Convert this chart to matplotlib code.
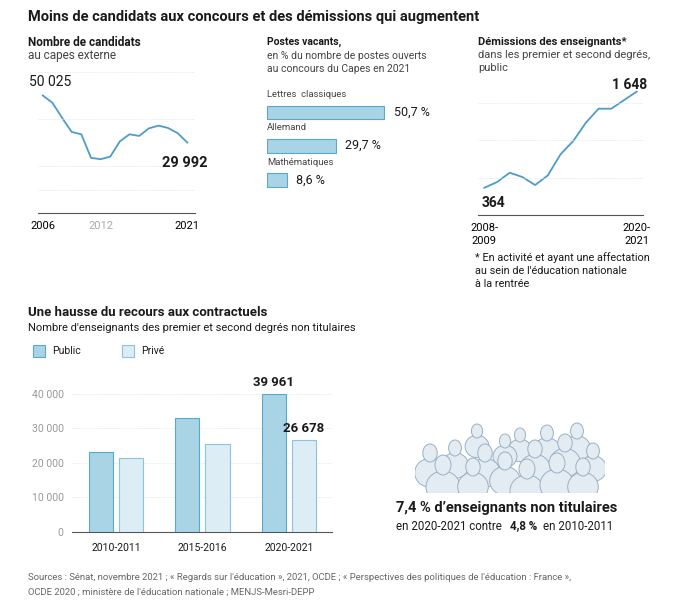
import matplotlib
matplotlib.use("Agg")
import matplotlib.pyplot as plt
from matplotlib.patches import Ellipse, FancyBboxPatch

plt.rcParams['font.family'] = ['Roboto', 'DejaVu Sans']

# ---- data ----
cand_years = list(range(2006, 2022))
cand_values = [50025, 46900, 40500, 34500, 33500, 23500, 22900, 24000, 30500,
               33500, 32800, 36000, 37200, 36200, 34000, 29992]

dem_years = ["2008-2009", "2009-2010", "2010-2011", "2011-2012", "2012-2013", "2013-2014",
             "2014-2015", "2015-2016", "2016-2017", "2017-2018", "2018-2019", "2019-2020", "2020-2021"]
dem_values = [364, 440, 565, 507, 400, 529, 810, 988, 1233, 1420, 1420, 1534, 1648]

vac_subjects = ["Lettres  classiques", "Allemand", "Mathématiques"]
vac_values = [50.7, 29.7, 8.6]
vac_labels = ["50,7 %", "29,7 %", "8,6 %"]

ct_years = ["2010-2011", "2015-2016", "2020-2021"]
ct_public = [23300, 32900, 39961]
ct_prive = [21400, 25500, 26678]

W, H = 680, 608
fig = plt.figure(figsize=(W/100, H/100), dpi=100)
fig.patch.set_facecolor("white")

def T(x, y, s, **kw):
    kw.setdefault("va", "center")
    return fig.text(x/W, 1-y/H, s, **kw)

def AX(x0, y0, x1, y1):
    return fig.add_axes([x0/W, 1-y1/H, (x1-x0)/W, (y1-y0)/H])

BLUE = "#4d9ccb"
GRID = "#e4e4e4"
DARK = "#1a1a1a"
GREY = "#444444"

T(28, 17, "Moins de candidats aux concours et des démissions qui augmentent",
  fontsize=10.5, fontweight="bold", color=DARK)

# ---- left line chart ----
T(28, 42, "Nombre de candidats", fontsize=8.5, fontweight="bold", color=DARK)
T(28, 56, "au capes externe", fontsize=8.5, color=GREY)
ax = AX(38, 65, 195, 213)
ax.plot(cand_years, cand_values, color=BLUE, lw=1.3)
ax.set_xlim(2005.5, 2021.8)
ax.set_ylim(0, 63000)
for g in [10000, 20000, 40000, 60000]:
    ax.axhline(g, color=GRID, lw=0.6, ls=(0, (1, 1)))
for s in ["top", "right", "left"]:
    ax.spines[s].set_visible(False)
ax.spines["bottom"].set_color("#555")
ax.set_yticks([])
ax.set_xticks([2006, 2012, 2021])
ax.set_xticklabels(["2006", "2012", "2021"], fontsize=8)
ax.tick_params(axis="x", length=0, pad=6)
ax.get_xticklabels()[1].set_color("#aaaaaa")
ax.annotate("50 025", (cand_years[0], cand_values[0]), xytext=(-10, 5), textcoords="offset points",
            fontsize=10, color=DARK, va="bottom")
ax.annotate("29 992", (cand_years[-1], cand_values[-1]), xytext=(-18, -10), textcoords="offset points",
            fontsize=10.5, fontweight="bold", color=DARK, ha="left", va="top")

# ---- vacant posts ----
T(267, 42, "Postes vacants,", fontsize=7.5, fontweight="bold", color=DARK)
T(267, 56, "en % du nombre de postes ouverts", fontsize=7.5, color=GREY)
T(267, 69, "au concours du Capes en 2021", fontsize=7.5, color=GREY)
axv = AX(267, 86, 457, 192)
ys = [0.05, 1.05, 2.1]
axv.barh(ys, vac_values, height=0.42, color="#a8d4e6", edgecolor="#5aa8cc", lw=0.8, align="center")
axv.set_xlim(0, 82)
axv.set_ylim(2.45, -0.75)
for yv, v, lab, sub in zip(ys, vac_values, vac_labels, vac_subjects):
    axv.text(v + 4, yv, lab, va="center", fontsize=9, color=DARK)
    axv.text(0, yv - 0.4, sub, va="bottom", fontsize=6.8, color=GREY)
axv.axis("off")

# ---- resignations ----
T(478, 42, "Démissions des enseignants*", fontsize=8, fontweight="bold", color=DARK)
T(478, 55, "dans les premier et second degrés,", fontsize=8, color=GREY)
T(478, 68, "public", fontsize=8, color=GREY)
axr = AX(478, 84, 643, 215)
xr = list(range(len(dem_years)))
axr.plot(xr, dem_values, color=BLUE, lw=1.3)
axr.set_xlim(-0.5, 12.5)
axr.set_ylim(0, 1750)
for g in [500, 1000, 1500]:
    axr.axhline(g, color=GRID, lw=0.6, ls=(0, (1, 1)))
for s in ["top", "right", "left"]:
    axr.spines[s].set_visible(False)
axr.spines["bottom"].set_color("#555")
axr.set_yticks([])
axr.set_xticks([0, 12])
axr.set_xticklabels(["2008-\n2009", "2020-\n2021"], fontsize=8, linespacing=1.3)
axr.tick_params(axis="x", length=0, pad=6)
axr.annotate("364", (0, dem_values[0]), xytext=(-2, -14), textcoords="offset points",
             fontsize=10, fontweight="bold", color=DARK)
axr.annotate("1 648", (12, dem_values[-1]), xytext=(-18, 2), textcoords="offset points",
             fontsize=10, fontweight="bold", color=DARK)
T(475, 258, "* En activité et ayant une affectation", fontsize=7.8, color=DARK)
T(475, 271, "au sein de l'éducation nationale", fontsize=7.8, color=DARK)
T(475, 284, "à la rentrée", fontsize=7.8, color=DARK)

# ---- contract teachers ----
T(28, 313, "Une hausse du recours aux contractuels", fontsize=9.5, fontweight="bold", color=DARK)
T(28, 328, "Nombre d'enseignants des premier et second degrés non titulaires", fontsize=8, color=DARK)
PUB_F, PUB_E = "#a8d4e6", "#5aa8cc"
PRI_F, PRI_E = "#dcedf6", "#8cc4de"
fig.patches.append(FancyBboxPatch((33/W, 1-357/H), 12/W, 12/H, boxstyle="square,pad=0",
                                  transform=fig.transFigure, fc=PUB_F, ec=PUB_E, lw=0.8))
T(52, 351, "Public", fontsize=7.5, color=DARK)
fig.patches.append(FancyBboxPatch((122/W, 1-357/H), 12/W, 12/H, boxstyle="square,pad=0",
                                  transform=fig.transFigure, fc=PRI_F, ec=PRI_E, lw=0.8))
T(141, 351, "Privé", fontsize=7.5, color=DARK)

axb = AX(72, 368, 332, 532)
xb = list(range(len(ct_years)))
bw = 0.28
off = 0.175
axb.bar([i - off for i in xb], ct_public, width=bw, color=PUB_F, edgecolor=PUB_E, lw=0.8, zorder=3)
axb.bar([i + off for i in xb], ct_prive, width=bw, color=PRI_F, edgecolor=PRI_E, lw=0.8, zorder=3)
axb.set_xlim(-0.51, 2.50)
axb.set_ylim(0, 47500)
axb.set_yticks([0, 10000, 20000, 30000, 40000])
axb.set_yticklabels(["0", "10 000", "20 000", "30 000", "40 000"], fontsize=7.5, color="#999999")
axb.yaxis.grid(True, color=GRID, lw=0.6, ls=(0, (1, 1)))
axb.set_axisbelow(True)
for s in ["top", "right", "left"]:
    axb.spines[s].set_visible(False)
axb.spines["bottom"].set_color("#555")
axb.tick_params(axis="y", length=0, pad=6)
axb.set_xticks(xb)
axb.set_xticklabels(ct_years, fontsize=7.5, color=DARK)
axb.tick_params(axis="x", length=0, pad=8)
axb.text(2 - off, ct_public[2] + 1500, "39 961", ha="center", va="bottom", fontsize=9.5,
         fontweight="bold", color=DARK)
axb.text(2 + off, ct_prive[2] + 1500, "26 678", ha="center", va="bottom", fontsize=9.5,
         fontweight="bold", color=DARK)

# ---- illustration (crowd) ----
axi = AX(415, 418, 605, 493)
axi.set_xlim(0, 190)
axi.set_ylim(0, 75)
axi.axis("off")
FC, EC = "#e3ecf3", "#9ab0c4"
people = [(62, 62, 7), (105, 58, 7), (132, 60, 8), (162, 62, 8), (90, 52, 7),
          (15, 40, 9), (40, 45, 8), (70, 40, 9), (120, 44, 9), (150, 50, 9),
          (178, 42, 8), (28, 28, 10), (58, 26, 9), (90, 32, 9), (112, 24, 10), (142, 30, 10),
          (168, 26, 9)]
for (cx, cy, r) in people:
    axi.add_patch(Ellipse((cx, cy - r*2.2), r*3.4, r*3.2, fc=FC, ec=EC, lw=0.7))
    axi.add_patch(Ellipse((cx, cy), r*1.6, r*2.0, fc=FC, ec=EC, lw=0.7))

T(396, 508, "7,4 % d’enseignants non titulaires", fontsize=10.5, fontweight="bold", color=DARK)
T(396, 526, "en 2020-2021 contre", fontsize=8.3, color=DARK)
T(510, 526, "4,8 %", fontsize=8.3, fontweight="bold", color=DARK)
T(543, 526, "en 2010-2011", fontsize=8.3, color=DARK)

T(28, 578, "Sources : Sénat, novembre 2021 ; « Regards sur l'éducation », 2021, OCDE ; « Perspectives des politiques de l'éducation : France »,",
  fontsize=6.8, color="#666666")
T(28, 592, "OCDE 2020 ; ministère de l'éducation nationale ; MENJS-Mesri-DEPP", fontsize=6.8, color="#666666")

fig.savefig("out.png", dpi=100, facecolor="white")
